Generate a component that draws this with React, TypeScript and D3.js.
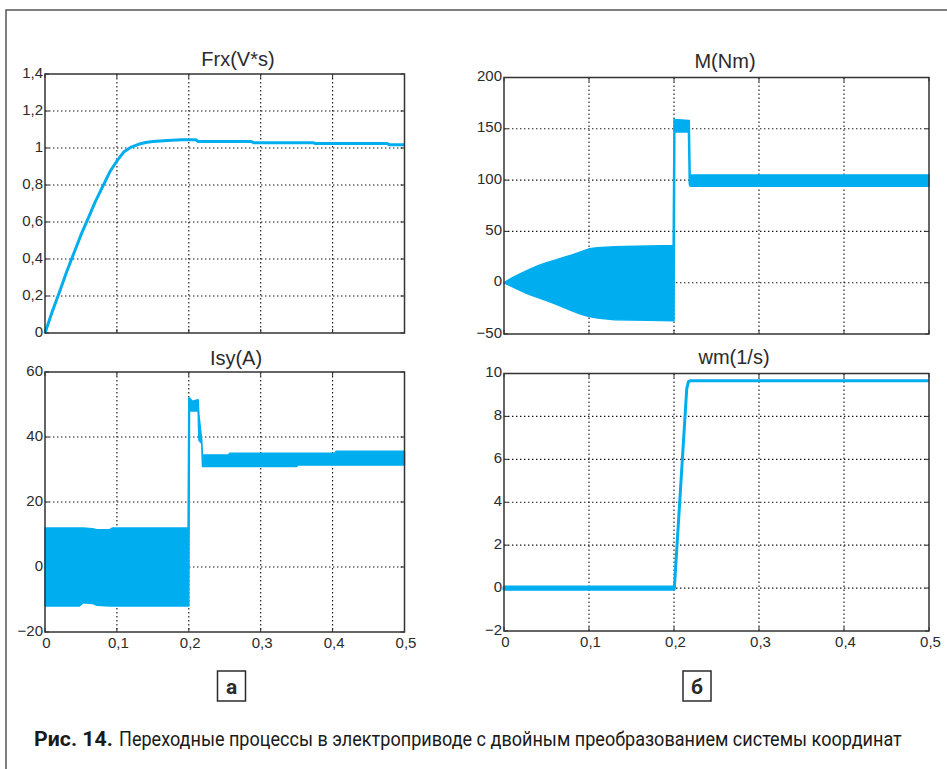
import React, { useEffect, useRef } from 'react'
import * as d3 from 'd3'

// shared time axis, s
const timeTicks = [0, 0.1, 0.2, 0.3, 0.4, 0.5]

// Frx(V*s)
const frxTime = [0, 0.01, 0.02, 0.03, 0.04, 0.05, 0.06, 0.07, 0.08, 0.09, 0.1, 0.11, 0.12, 0.13, 0.14, 0.15, 0.17, 0.19, 0.21, 0.213, 0.287, 0.29, 0.373, 0.376, 0.476, 0.479, 0.5]
const frxValue = [0, 0.115, 0.22, 0.33, 0.43, 0.53, 0.62, 0.71, 0.79, 0.87, 0.93, 0.98, 1.005, 1.02, 1.03, 1.035, 1.04, 1.045, 1.044, 1.035, 1.035, 1.029, 1.029, 1.024, 1.024, 1.017, 1.017]
const frxTicks = [0, 0.2, 0.4, 0.6, 0.8, 1, 1.2, 1.4]

// M(Nm) - envelope of the oscillating torque
const mTime = [0, 0.01, 0.02, 0.03, 0.04, 0.05, 0.06, 0.07, 0.08, 0.09, 0.1, 0.11, 0.13, 0.17, 0.199, 0.2, 0.201, 0.217, 0.218, 0.219, 0.5]
const mUpper = [0, 5, 9, 13, 16.5, 19.5, 22, 24.5, 27, 30, 33, 34, 35, 35.7, 36.2, 160, 159, 158, 158, 105, 105]
const mLower = [0, -4, -8, -11.5, -14.5, -17.5, -20.5, -24, -27.5, -30.5, -33, -34.5, -36, -36.5, -37, -37, 147, 147, 96, 94, 94]
const mTicks = [-50, 0, 50, 100, 150, 200]

// Isy(A) - envelope
const isyTime = [0, 0.048, 0.053, 0.066, 0.072, 0.09, 0.094, 0.199, 0.2, 0.201, 0.205, 0.213, 0.214, 0.218, 0.219, 0.255, 0.257, 0.35, 0.352, 0.403, 0.405, 0.5]
const isyUpper = [12, 12, 12, 11.8, 11.5, 11.5, 12, 12, 52, 52, 51, 51.5, 47, 39, 34.5, 34.5, 35, 35, 35, 35, 35.6, 35.6]
const isyLower = [-12, -12, -11, -11.2, -11.8, -12, -12, -12, -12, 48, 48, 48, 39, 38, 30.9, 30.9, 30.9, 30.9, 31.4, 31.4, 31.4, 31.4]
const isyTicks = [-20, 0, 20, 40, 60]

// wm(1/s)
const wmTime = [0, 0.2, 0.2005, 0.215, 0.217, 0.219, 0.5]
const wmValue = [0, 0, 0.05, 9.3, 9.62, 9.66, 9.66]
const wmRippleTime = [0, 0.2]
const wmRippleUpper = [0.05, 0.05]
const wmRippleLower = [-0.05, -0.05]
const wmTicks = [-2, 0, 2, 4, 6, 8, 10]

const BLUE = '#00aeef'
const INK = '#2b2b2b'
const FONT = '"Liberation Sans", Arial, Helvetica, sans-serif'
const NARROW = '"Liberation Sans Narrow", "Roboto", "Liberation Sans", sans-serif'

const fmt = (v: number) => String(v).replace('.', ',').replace('-', '\u2212')

export default function App() {
  const ref = useRef<SVGSVGElement>(null)

  useEffect(() => {
    const svg = d3.select(ref.current)
    svg.selectAll('*').remove()

    const panel = (box: { left: number; right: number; top: number; bottom: number }, yTicks: number[], title: string, titleX: number, titleY: number, xLabels: boolean) => {
      const x = d3.scaleLinear().domain([0, 0.5]).range([box.left, box.right])
      const y = d3.scaleLinear().domain([yTicks[0], yTicks[yTicks.length - 1]]).range([box.bottom, box.top])
      const g = svg.append('g')

      // dotted grid
      g.selectAll('.gx').data(timeTicks.slice(1, -1)).enter().append('line')
        .attr('x1', d => x(d)).attr('x2', d => x(d))
        .attr('y1', box.top).attr('y2', box.bottom)
        .attr('stroke', '#111').attr('stroke-width', 1.1).attr('stroke-dasharray', '1.4 2.6')
      g.selectAll('.gy').data(yTicks.slice(1, -1)).enter().append('line')
        .attr('y1', d => y(d)).attr('y2', d => y(d))
        .attr('x1', box.left).attr('x2', box.right)
        .attr('stroke', '#111').attr('stroke-width', 1.1).attr('stroke-dasharray', '1.4 2.6')

      // inner ticks
      timeTicks.forEach(t => {
        g.append('line').attr('x1', x(t)).attr('x2', x(t)).attr('y1', box.bottom).attr('y2', box.bottom - 4).attr('stroke', INK)
        g.append('line').attr('x1', x(t)).attr('x2', x(t)).attr('y1', box.top).attr('y2', box.top + 4).attr('stroke', INK)
      })
      yTicks.forEach(v => {
        g.append('line').attr('y1', y(v)).attr('y2', y(v)).attr('x1', box.left).attr('x2', box.left + 4).attr('stroke', INK)
        g.append('line').attr('y1', y(v)).attr('y2', y(v)).attr('x1', box.right).attr('x2', box.right - 4).attr('stroke', INK)
      })

      // labels
      g.selectAll('.ly').data(yTicks).enter().append('text')
        .attr('x', box.left - 2).attr('y', d => y(d) + 3.5)
        .attr('text-anchor', 'end').attr('font-family', FONT).attr('font-size', 15).attr('fill', INK)
        .text(d => fmt(d))
      if (xLabels) {
        g.selectAll('.lx').data(timeTicks).enter().append('text')
          .attr('x', d => x(d) + 1.5).attr('y', box.bottom + 15.5)
          .attr('text-anchor', 'middle').attr('font-family', FONT).attr('font-size', 15).attr('fill', INK)
          .text(d => fmt(d))
      }
      g.append('text').attr('x', titleX).attr('y', titleY).attr('text-anchor', 'middle')
        .attr('font-family', FONT).attr('font-size', 20).attr('fill', INK).text(title)

      return { g, x, y, box }
    }

    const drawBand = (p: any, t: number[], lo: number[], hi: number[], sw: number) => {
      const idx = d3.range(t.length)
      const area = d3.area<number>().x(i => p.x(t[i])).y0(i => p.y(lo[i])).y1(i => p.y(hi[i]))
      p.g.append('path').attr('d', area(idx)).attr('fill', BLUE).attr('stroke', BLUE)
        .attr('stroke-width', sw).attr('stroke-linejoin', 'round')
    }
    const drawLine = (p: any, t: number[], v: number[]) => {
      const idx = d3.range(t.length)
      const line = d3.line<number>().x(i => p.x(t[i])).y(i => p.y(v[i]))
      p.g.append('path').attr('d', line(idx)).attr('fill', 'none').attr('stroke', BLUE)
        .attr('stroke-width', 3).attr('stroke-linejoin', 'round')
    }
    const frame = (p: any) => {
      p.g.append('rect').attr('x', p.box.left).attr('y', p.box.top)
        .attr('width', p.box.right - p.box.left).attr('height', p.box.bottom - p.box.top)
        .attr('fill', 'none').attr('stroke', '#333').attr('stroke-width', 1.5)
    }

    const pFrx = panel({ left: 45, right: 404.5, top: 74, bottom: 333 }, frxTicks, 'Frx(V*s)', 238, 66, false)
    drawLine(pFrx, frxTime, frxValue)
    frame(pFrx)

    const pM = panel({ left: 504, right: 929, top: 77.5, bottom: 334 }, mTicks, 'M(Nm)', 725, 68, false)
    drawBand(pM, mTime, mLower, mUpper, 1.5)
    frame(pM)

    const pI = panel({ left: 45, right: 404.5, top: 372, bottom: 632 }, isyTicks, 'Isy(A)', 236, 365, true)
    drawBand(pI, isyTime, isyLower, isyUpper, 1.5)
    frame(pI)

    const pW = panel({ left: 504, right: 929, top: 373.5, bottom: 631 }, wmTicks, 'wm(1/s)', 734, 364, true)
    drawBand(pW, wmRippleTime, wmRippleLower, wmRippleUpper, 3)
    drawLine(pW, wmTime, wmValue)
    frame(pW)

    // sub-figure letters
    const letter = (cx: number, s: string) => {
      svg.append('rect').attr('x', cx - 14).attr('y', 671).attr('width', 28).attr('height', 30)
        .attr('fill', 'none').attr('stroke', INK).attr('stroke-width', 1.5)
      svg.append('text').attr('x', cx).attr('y', 693.5).attr('text-anchor', 'middle')
        .attr('font-family', NARROW).attr('font-weight', 'bold').attr('font-size', 21).attr('fill', INK).text(s)
    }
    letter(231.5, 'а')
    letter(697, 'б')

    // caption, squeezed horizontally to the condensed width of the original
    const caption = (x: number, width: number, bold: boolean, s: string) => {
      const t = svg.append('text').attr('x', 0).attr('y', 0).attr('font-family', NARROW)
        .attr('font-weight', bold ? 'bold' : 'normal').attr('font-size', 20).attr('fill', '#1a1a1a').text(s)
      const natural = (t.node() as SVGTextElement).getComputedTextLength() || width
      t.attr('transform', `translate(${x},746) scale(${width / natural},1)`)
    }
    caption(34, 79, true, 'Рис. 14.')
    caption(119, 783, false, 'Переходные процессы в электроприводе с двойным преобразованием системы координат')

    // outer frame (top and left edges)
    svg.append('path').attr('d', 'M6,769 L6,10 L947,10').attr('fill', 'none').attr('stroke', '#555').attr('stroke-width', 1.5)
  }, [])

  return (
    <svg ref={ref} width={947} height={769}
      style={{ position: 'absolute', left: 0, top: 0, background: '#fff' }} />
  )
}
